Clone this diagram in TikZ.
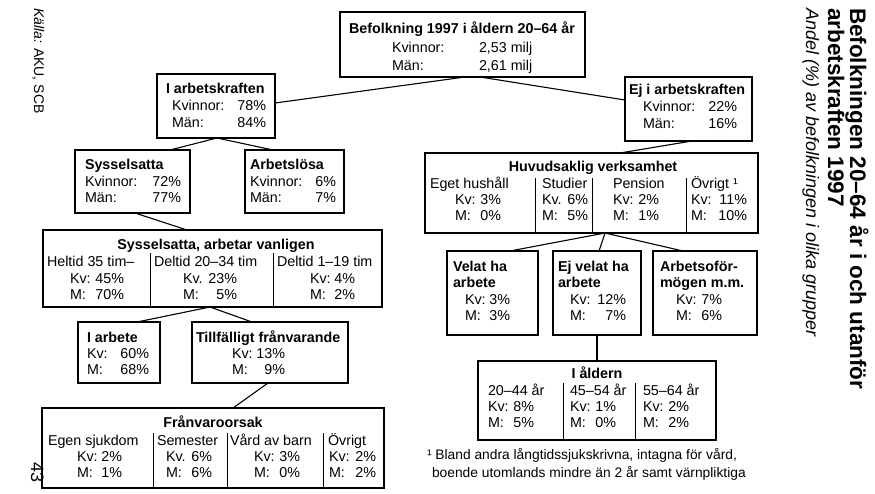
\documentclass[tikz,border=0pt]{standalone}
\usepackage{fontspec}
\setmainfont{Liberation Sans}
\begin{document}
\begin{tikzpicture}[x=1pt,y=-1pt,
  box/.style={draw, line width=1.1pt, inner sep=0pt, outer sep=0pt, anchor=north west},
  lnk/.style={line width=1.1pt},
  dv/.style={line width=0.9pt},
  tx/.style={inner sep=0pt, outer sep=0pt, anchor=base west, font=\fontsize{14.3}{16.5}\selectfont},
  tr/.style={tx, anchor=base east},
  tb/.style={tx, font=\fontsize{14.3}{16.5}\selectfont\bfseries},
  tbc/.style={tb, anchor=base}]
\useasboundingbox (0,0) rectangle (875,493);

% ---------- boxes ----------
\node[box, minimum width=245pt, minimum height=65pt] (b0) at (340,12) {};
\node[box, minimum width=118pt, minimum height=64pt] (b1) at (157,74) {};
\node[box, minimum width=127pt, minimum height=64pt] (b2) at (625,77) {};
\node[box, minimum width=115pt, minimum height=63pt] (b3) at (75,150) {};
\node[box, minimum width=99pt, minimum height=63pt] (b4) at (245,150) {};
\node[box, minimum width=333pt, minimum height=80pt] (b5) at (425,153) {};
\node[box, minimum width=339pt, minimum height=77pt] (b6) at (43,230) {};
\node[box, minimum width=91pt, minimum height=84pt] (b7) at (447,251) {};
\node[box, minimum width=88pt, minimum height=84pt] (b8) at (553,251) {};
\node[box, minimum width=104pt, minimum height=84pt] (b9) at (653,251) {};
\node[box, minimum width=82pt, minimum height=61pt] (b10) at (78,322) {};
\node[box, minimum width=156pt, minimum height=61pt] (b11) at (192,322) {};
\node[box, minimum width=342pt, minimum height=80pt] (b12) at (42,408) {};
\node[box, minimum width=238pt, minimum height=79pt] (b13) at (478,361) {};

% ---------- dividers ----------
\foreach \dx in {110,167,261} \draw[dv] ([shift={(\dx,0)}]b5.south west) -- ([shift={(\dx,-55)}]b5.south west);
\foreach \dx in {107,230} \draw[dv] ([shift={(\dx,0)}]b6.south west) -- ([shift={(\dx,-54)}]b6.south west);
\foreach \dx in {111,185,281} \draw[dv] ([shift={(\dx,0)}]b12.south west) -- ([shift={(\dx,-55)}]b12.south west);
\foreach \dx in {85,157} \draw[dv] ([shift={(\dx,0)}]b13.south west) -- ([shift={(\dx,-57)}]b13.south west);

% ---------- connectors ----------
\draw[lnk] ([shift={(125,0)}]b0.south west) -- ([shift={(0,29)}]b1.north east);
\draw[lnk] ([shift={(140,0)}]b0.south west) -- ([shift={(0,23)}]b2.north west);
\draw[lnk] ([shift={(95,0)}]b3.north west) -- ([shift={(60,0)}]b1.south west) -- ([shift={(28,0)}]b4.north west);
\draw[lnk] ([shift={(67,0)}]b2.south west) -- ([shift={(195,0)}]b5.north west);
\draw[lnk] ([shift={(60,0)}]b3.south west) -- ([shift={(144,0)}]b6.north west);
\draw[lnk] ([shift={(63,0)}]b7.north west) -- ([shift={(180,0)}]b5.south west) -- ([shift={(30,0)}]b9.north west);
\draw[lnk] ([shift={(180,0)}]b5.south west) -- ([shift={(46,0)}]b8.north west);
\draw[lnk] ([shift={(59,0)}]b10.north west) -- ([shift={(167,0)}]b6.south west) -- ([shift={(60,0)}]b11.north west);
\draw[lnk] ([shift={(76,0)}]b11.south west) -- ([shift={(191,0)}]b12.north west);
\draw[lnk] ([shift={(44,0)}]b8.south west) -- ([shift={(119,0)}]b13.north west);

% ---------- texts: top ----------
\node[tbc] (t0) at (462,33) {Befolkning 1997 i åldern 20–64 år};
\node[tx] (t0a) at (392,52) {Kvinnor:};
\node[tx] (t0b) at (479,52) {2,53 milj};
\node[tx] (t0c) at (392,70) {Män:};
\node[tx] (t0d) at (479,70) {2,61 milj};

\node[tb] (t1) at (166,93) {I arbetskraften};
\node[tx] (t1a) at (172,110) {Kvinnor:};
\node[tr] (t1b) at (266,110) {78\%};
\node[tx] (t1c) at (172,127) {Män:};
\node[tr] (t1d) at (266,127) {84\%};

\node[tb] (t2) at (629,94) {Ej i arbetskraften};
\node[tx] (t2a) at (643,111) {Kvinnor:};
\node[tr] (t2b) at (737,111) {22\%};
\node[tx] (t2c) at (643,128) {Män:};
\node[tr] (t2d) at (737,128) {16\%};

\node[tb] (t3) at (85,169) {Sysselsatta};
\node[tx] (t3a) at (85,186) {Kvinnor:};
\node[tr] (t3b) at (181,186) {72\%};
\node[tx] (t3c) at (85,202) {Män:};
\node[tr] (t3d) at (181,202) {77\%};

\node[tb] (t4) at (250,169) {Arbetslösa};
\node[tx] (t4a) at (250,186) {Kvinnor:};
\node[tr] (t4b) at (336,186) {6\%};
\node[tx] (t4c) at (250,202) {Män:};
\node[tr] (t4d) at (336,202) {7\%};

% Huvudsaklig verksamhet
\node[tbc] (t5) at (593,171) {Huvudsaklig verksamhet};
\node[tx] (t5a) at (430,188) {Eget hushåll};
\node[tx] (t5b) at (455,204) {Kv:};
\node[tr] (t5c) at (501,204) {3\%};
\node[tx] (t5d) at (455,220) {M:};
\node[tr] (t5e) at (501,220) {0\%};
\node[tx] (t5f) at (542,188) {Studier};
\node[tx] (t5g) at (542,204) {Kv.};
\node[tr] (t5h) at (588,204) {6\%};
\node[tx] (t5i) at (542,220) {M:};
\node[tr] (t5j) at (588,220) {5\%};
\node[tx] (t5k) at (613,188) {Pension};
\node[tx] (t5l) at (613,204) {Kv:};
\node[tr] (t5m) at (659,204) {2\%};
\node[tx] (t5n) at (613,220) {M:};
\node[tr] (t5o) at (659,220) {1\%};
\node[tx] (t5p) at (691,188) {Övrigt ¹};
\node[tx] (t5q) at (691,204) {Kv:};
\node[tr] (t5r) at (747,204) {11\%};
\node[tx] (t5s) at (691,220) {M:};
\node[tr] (t5t) at (747,220) {10\%};

% Sysselsatta, arbetar vanligen
\node[tbc] (t6) at (216,249) {Sysselsatta, arbetar vanligen};
\node[tx] (t6a) at (47,266) {Heltid 35 tim–};
\node[tx] (t6b) at (70,283) {Kv:};
\node[tr] (t6c) at (124,283) {45\%};
\node[tx] (t6d) at (70,299) {M:};
\node[tr] (t6e) at (124,299) {70\%};
\node[tx] (t6f) at (154,266) {Deltid 20–34 tim};
\node[tx] (t6g) at (183,283) {Kv.};
\node[tr] (t6h) at (237,283) {23\%};
\node[tx] (t6i) at (183,299) {M:};
\node[tr] (t6j) at (237,299) {5\%};
\node[tx] (t6k) at (277,266) {Deltid 1–19 tim};
\node[tx] (t6l) at (310,283) {Kv:};
\node[tr] (t6m) at (355,283) {4\%};
\node[tx] (t6n) at (310,299) {M:};
\node[tr] (t6o) at (355,299) {2\%};

% Velat / Ej velat / Arbetsoförmögen
\node[tb] (t7) at (453,271) {Velat ha};
\node[tb] (t7a) at (453,287) {arbete};
\node[tx] (t7b) at (465,304) {Kv:};
\node[tr] (t7c) at (510,304) {3\%};
\node[tx] (t7d) at (465,320) {M:};
\node[tr] (t7e) at (510,320) {3\%};

\node[tb] (t8) at (558,271) {Ej velat ha};
\node[tb] (t8a) at (558,287) {arbete};
\node[tx] (t8b) at (570,304) {Kv:};
\node[tr] (t8c) at (626,304) {12\%};
\node[tx] (t8d) at (570,320) {M:};
\node[tr] (t8e) at (626,320) {7\%};

\node[tb] (t9) at (660,271) {Arbetsoför-};
\node[tb] (t9a) at (660,287) {mögen m.m.};
\node[tx] (t9b) at (676,304) {Kv:};
\node[tr] (t9c) at (722,304) {7\%};
\node[tx] (t9d) at (676,320) {M:};
\node[tr] (t9e) at (722,320) {6\%};

% I arbete / Tillfälligt frånvarande
\node[tb] (t10) at (87,342) {I arbete};
\node[tx] (t10a) at (87,358) {Kv:};
\node[tr] (t10b) at (149,358) {60\%};
\node[tx] (t10c) at (87,374) {M:};
\node[tr] (t10d) at (149,374) {68\%};

\node[tb] (t11) at (196,342) {Tillfälligt frånvarande};
\node[tx] (t11a) at (232,358) {Kv:};
\node[tr] (t11b) at (285,358) {13\%};
\node[tx] (t11c) at (232,374) {M:};
\node[tr] (t11d) at (285,374) {9\%};

% Frånvaroorsak
\node[tbc] (t12) at (213,427) {Frånvaroorsak};
\node[tx] (t12a) at (48,445) {Egen sjukdom};
\node[tx] (t12b) at (77,461) {Kv:};
\node[tr] (t12c) at (122,461) {2\%};
\node[tx] (t12d) at (77,477) {M:};
\node[tr] (t12e) at (122,477) {1\%};
\node[tx] (t12f) at (157,445) {Semester};
\node[tx] (t12g) at (166,461) {Kv.};
\node[tr] (t12h) at (212,461) {6\%};
\node[tx] (t12i) at (166,477) {M:};
\node[tr] (t12j) at (212,477) {6\%};
\node[tx] (t12k) at (230,445) {Vård av barn};
\node[tx] (t12l) at (254,461) {Kv:};
\node[tr] (t12m) at (300,461) {3\%};
\node[tx] (t12n) at (254,477) {M:};
\node[tr] (t12o) at (300,477) {0\%};
\node[tx] (t12p) at (328,445) {Övrigt};
\node[tx] (t12q) at (329,461) {Kv:};
\node[tr] (t12r) at (376,461) {2\%};
\node[tx] (t12s) at (329,477) {M:};
\node[tr] (t12t) at (376,477) {2\%};

% I åldern
\node[tbc] (t13) at (597,378) {I åldern};
\node[tx] (t13a) at (488,395) {20–44 år};
\node[tx] (t13b) at (488,411) {Kv:};
\node[tr] (t13c) at (534,411) {8\%};
\node[tx] (t13d) at (488,427) {M:};
\node[tr] (t13e) at (534,427) {5\%};
\node[tx] (t13f) at (570,395) {45–54 år};
\node[tx] (t13g) at (570,411) {Kv:};
\node[tr] (t13h) at (616,411) {1\%};
\node[tx] (t13i) at (570,427) {M:};
\node[tr] (t13j) at (616,427) {0\%};
\node[tx] (t13k) at (643,395) {55–64 år};
\node[tx] (t13l) at (643,411) {Kv:};
\node[tr] (t13m) at (689,411) {2\%};
\node[tx] (t13n) at (643,427) {M:};
\node[tr] (t13o) at (689,427) {2\%};

% footnote
\node[tx, font=\fontsize{13.8}{16}\selectfont] (fn1) at (427,459) {¹ Bland andra långtidssjukskrivna, intagna för vård,};
\node[tx, font=\fontsize{13.8}{16}\selectfont] (fn2) at (432,477) {boende utomlands mindre än 2 år samt värnpliktiga};

% rotated texts
\node[tx, rotate=-90, font=\fontsize{14}{16}\selectfont] (src) at (34,8) {\textit{Källa:} AKU, SCB};
\node[tx, rotate=-90, font=\fontsize{18}{20}\selectfont] (pg) at (31,462) {43};
\node[tx, rotate=-90, font=\fontsize{22.5}{24}\selectfont\bfseries] (ti1) at (850,8) {Befolkningen 20–64 år i och utanför};
\node[tx, rotate=-90, font=\fontsize{22.5}{24}\selectfont\bfseries] (ti2) at (828,8) {arbetskraften 1997};
\node[tx, rotate=-90, font=\fontsize{18}{20}\selectfont\itshape] (ti3) at (806,8) {Andel (\%) av befolkningen i olika grupper};
\end{tikzpicture}
\end{document}
